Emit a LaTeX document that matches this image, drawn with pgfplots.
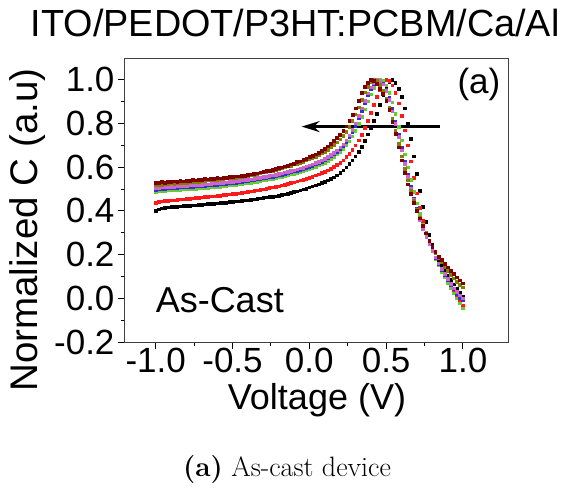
\documentclass[border=0pt]{standalone}
\usepackage{fontspec}
\newfontfamily\arial{Liberation Sans}
\usepackage{pgfplots}
\pgfplotsset{compat=1.18}
\usepackage{pgfplotstable}
\usetikzlibrary{arrows.meta}
\definecolor{cred}{HTML}{FF1A1A}
\definecolor{cgreen}{HTML}{66CC33}
\definecolor{cblue}{HTML}{3333CC}
\definecolor{cmag}{HTML}{CC66CC}
\definecolor{colive}{HTML}{808000}
\definecolor{cbrown}{HTML}{800000}
\pgfplotstableread{
x k r g b m o n
-1.00 .400 .438 .488 .498 .504 .519 .530
-0.98 .407 .442 .490 .500 .506 .521 .528
-0.96 .412 .444 .492 .502 .508 .520 .533
-0.94 .415 .446 .493 .503 .509 .524 .531
-0.92 .417 .448 .494 .504 .510 .523 .535
-0.90 .418 .449 .495 .505 .511 .526 .533
-0.88 .419 .450 .496 .506 .512 .525 .536
-0.86 .420 .452 .497 .507 .513 .528 .535
-0.84 .421 .453 .498 .508 .514 .527 .538
-0.82 .423 .454 .499 .509 .515 .530 .536
-0.80 .424 .456 .500 .510 .516 .530 .540
-0.78 .425 .457 .501 .511 .517 .532 .539
-0.76 .426 .458 .502 .512 .518 .532 .542
-0.74 .427 .460 .503 .513 .519 .535 .541
-0.72 .428 .461 .504 .514 .520 .534 .544
-0.70 .429 .462 .505 .515 .521 .537 .543
-0.68 .430 .464 .506 .516 .522 .537 .546
-0.66 .432 .465 .507 .517 .523 .540 .545
-0.64 .433 .467 .508 .518 .524 .540 .548
-0.62 .434 .468 .510 .520 .526 .543 .548
-0.60 .435 .470 .511 .521 .527 .543 .551
-0.58 .437 .471 .512 .522 .528 .546 .550
-0.56 .438 .473 .514 .524 .530 .546 .553
-0.54 .439 .475 .515 .525 .531 .549 .553
-0.52 .441 .476 .517 .527 .533 .549 .556
-0.50 .442 .478 .518 .528 .534 .553 .556
-0.48 .444 .480 .520 .530 .536 .553 .559
-0.46 .445 .482 .522 .532 .538 .557 .559
-0.44 .447 .484 .524 .534 .540 .557 .563
-0.42 .449 .486 .526 .536 .542 .561 .563
-0.40 .450 .488 .528 .538 .544 .562 .567
-0.38 .452 .490 .530 .540 .546 .566 .568
-0.36 .454 .492 .532 .542 .548 .567 .572
-0.34 .456 .494 .535 .545 .551 .571 .573
-0.32 .458 .497 .537 .547 .553 .572 .577
-0.30 .460 .499 .540 .550 .556 .577 .578
-0.28 .462 .502 .542 .552 .558 .578 .583
-0.26 .464 .505 .545 .555 .561 .583 .585
-0.24 .466 .508 .548 .558 .564 .585 .590
-0.22 .468 .511 .551 .561 .567 .590 .592
-0.20 .471 .514 .554 .564 .570 .592 .597
-0.18 .474 .517 .557 .567 .573 .597 .600
-0.16 .477 .521 .561 .571 .577 .600 .605
-0.14 .480 .524 .564 .574 .580 .605 .608
-0.12 .483 .528 .568 .578 .584 .608 .614
-0.10 .487 .532 .571 .581 .587 .613 .618
-0.08 .491 .536 .575 .585 .591 .617 .624
-0.06 .495 .540 .579 .589 .595 .622 .628
-0.04 .499 .544 .583 .593 .599 .626 .635
-0.02 .503 .548 .588 .598 .604 .632 .640
0.00 .508 .553 .593 .603 .609 .637 .647
0.02 .513 .558 .598 .608 .614 .643 .652
0.04 .518 .563 .603 .613 .620 .649 .660
0.06 .523 .568 .609 .619 .626 .656 .667
0.08 .528 .574 .615 .626 .633 .664 .676
0.10 .534 .580 .622 .633 .640 .672 .685
0.12 .540 .587 .630 .641 .648 .681 .696
0.14 .547 .594 .638 .650 .657 .691 .707
0.16 .555 .602 .648 .660 .667 .702 .720
0.18 .564 .611 .659 .671 .678 .715 .734
0.20 .574 .621 .671 .684 .691 .729 .750
0.22 .586 .633 .685 .699 .706 .745 .768
0.24 .600 .647 .701 .716 .724 .764 .788
0.26 .615 .662 .720 .737 .746 .786 .812
0.28 .632 .680 .742 .762 .772 .812 .840
0.30 .651 .700 .768 .791 .802 .842 .870
0.32 .670 .724 .798 .824 .835 .875 .905
0.34 .694 .750 .831 .859 .870 .910 .940
0.36 .722 .780 .866 .895 .905 .943 .968
0.38 .752 .814 .902 .929 .938 .970 .988
0.40 .782 .850 .935 .959 .966 .989 1.000
0.42 .812 .887 .963 .983 .987 1.000 .997
0.44 .845 .923 .985 .997 1.000 .996 .983
0.46 .885 .956 1.000 .999 .997 .978 .960
0.48 .930 .983 .995 .985 .980 .950 .935
0.50 .965 1.000 .975 .957 .950 .915 .905
0.52 .992 .995 .942 .917 .908 .872 .862
0.54 1.000 .975 .898 .867 .857 .822 .810
0.56 .988 .940 .845 .811 .800 .767 .752
0.58 .960 .893 .786 .751 .740 .709 .692
0.60 .922 .835 .724 .689 .678 .650 .632
0.62 .870 .770 .660 .627 .617 .593 .575
0.64 .802 .700 .600 .567 .558 .540 .522
0.66 .730 .627 .543 .511 .503 .492 .478
0.68 .650 .553 .488 .459 .452 .448 .438
0.70 .570 .482 .436 .411 .405 .408 .402
0.72 .492 .415 .386 .366 .361 .370 .367
0.74 .420 .355 .338 .324 .320 .334 .332
0.76 .352 .302 .294 .285 .282 .299 .298
0.78 .292 .257 .254 .249 .248 .266 .265
0.80 .245 .218 .216 .216 .217 .236 .236
0.82 .208 .184 .182 .186 .188 .209 .212
0.84 .178 .153 .151 .158 .161 .186 .192
0.86 .152 .125 .122 .132 .136 .165 .175
0.88 .128 .099 .096 .107 .112 .146 .158
0.90 .106 .075 .071 .084 .090 .127 .142
0.92 .085 .052 .047 .062 .068 .109 .127
0.94 .065 .028 .024 .041 .047 .092 .112
0.96 .046 .006 .001 .021 .029 .076 .097
0.98 .028 -.015 -.022 .003 .014 .062 .083
1.00 .010 -.035 -.046 -.008 .000 .050 .069
}\data
\newcommand\bigfont{\arial\fontsize{35}{40}\selectfont}
\begin{document}
\begin{tikzpicture}
\useasboundingbox (-125pt,-154pt) rectangle (441pt,342pt);
\begin{axis}[
  at={(0pt,0pt)}, anchor=south west,
  scale only axis, width=384pt, height=284pt,
  xmin=-1.2, xmax=1.3, ymin=-0.2, ymax=1.1,
  xtick={-1,-0.5,0,0.5,1},
  ytick={-0.2,0,0.2,0.4,0.6,0.8,1.0},
  minor x tick num=1, minor y tick num=1,
  tick pos=left, tick align=outside,
  major tick length=7pt, minor tick length=4pt,
  every tick/.style={black, line width=1pt},
  axis line style={black!75, line width=1pt},
  /pgf/number format/.cd, fixed, fixed zerofill, precision=1, assume math mode=true,
  /pgfplots/.cd,
  xticklabel style={font=\bigfont, yshift=2pt, inner ysep=1pt},
  yticklabel style={font=\bigfont},
  xlabel={Voltage (V)},
  xlabel style={font=\arial\fontsize{36}{40}\selectfont, at={(axis description cs:0.5,-0.236)}, anchor=base, inner ysep=0pt},
  ylabel={Normalized C (a.u)},
  ylabel style={font=\arial\fontsize{38.5}{42}\selectfont, at={(axis description cs:-0.253,0.394)}, anchor=center, rotate=0},
  title={ITO/PEDOT/P3HT:PCBM/Ca/Al},
  title style={font=\arial\fontsize{37.8}{42}\selectfont, at={(axis description cs:0.443,1.056)}, anchor=base, inner sep=0pt},
  clip=false,
]
\addplot[only marks, mark=square*, mark size=1.3pt, black] table[x=x,y=k]{\data};
\addplot[only marks, mark=square*, mark size=1.3pt, cred] table[x=x,y=r]{\data};
\addplot[only marks, mark=square*, mark size=1.3pt, cgreen] table[x=x,y=g]{\data};
\addplot[only marks, mark=square*, mark size=1.3pt, cblue] table[x=x,y=b]{\data};
\addplot[only marks, mark=square*, mark size=1.3pt, cmag] table[x=x,y=m]{\data};
\addplot[only marks, mark=square*, mark size=1.3pt, colive] table[x=x,y=o]{\data};
\addplot[only marks, mark=square*, mark size=1.4pt, cbrown] table[x=x,y=n]{\data};
\draw[line width=2.2pt, -{Stealth[length=18pt,width=11pt]}] (axis cs:0.85,0.786) -- (axis cs:-0.05,0.786);
\node[font=\arial\fontsize{35}{40}\selectfont] at (axis cs:1.104,0.977) {(a)};
\node[font=\arial\fontsize{36}{40}\selectfont] at (axis cs:-0.583,-0.008) {As-Cast};
\node[anchor=base, font=\fontsize{28}{32}\selectfont] at (axis description cs:0.422,-0.475) {\textbf{(a)} As-cast device};
\end{axis}
\end{tikzpicture}
\end{document}
